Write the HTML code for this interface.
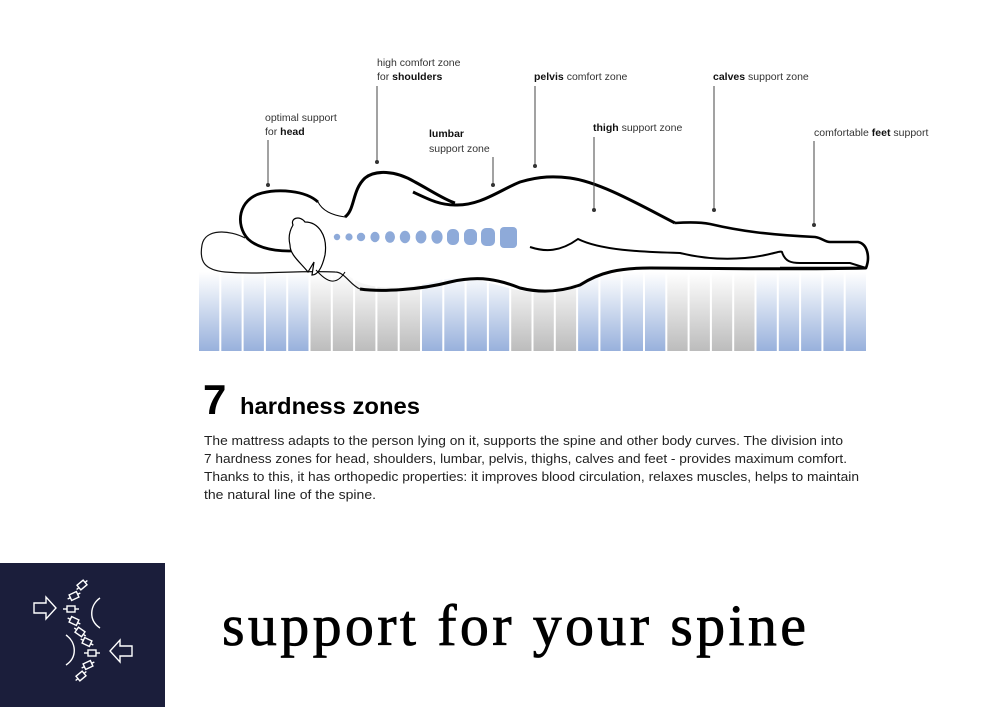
<!DOCTYPE html>
<html><head><meta charset="utf-8"><style>
html,body{margin:0;padding:0;background:#fff}
svg{display:block}
</style></head><body>
<svg width="1000" height="707" viewBox="0 0 1000 707" xmlns="http://www.w3.org/2000/svg">
<defs>
<linearGradient id="gb" x1="0" y1="0" x2="0" y2="1"><stop offset="0" stop-color="#ffffff"/><stop offset="1" stop-color="#98b1dc"/></linearGradient>
<linearGradient id="gg" x1="0" y1="0" x2="0" y2="1"><stop offset="0" stop-color="#ffffff"/><stop offset="1" stop-color="#bcbcbc"/></linearGradient>
</defs>
<rect width="1000" height="707" fill="#fff"/>
<g id="strips"></g>
<script>
(function(){var pat="bbbbbgggggbbbbgggbbbbggggbbbbb";var g=document.getElementById("strips");var x0=199,w=22.3;for(var i=0;i<30;i++){var r=document.createElementNS("http://www.w3.org/2000/svg","rect");r.setAttribute("x",(x0+i*w).toFixed(1));r.setAttribute("y","272");r.setAttribute("width",(w-2).toFixed(1));r.setAttribute("height","79");r.setAttribute("fill",pat[i]=="b"?"url(#gb)":"url(#gg)");g.appendChild(r);}})();
</script>
<path d="M202,245 C205,228 230,232 245,238 L300,215 C330,210 345,175 377,172 C410,170 440,200 455,203 C480,205 500,178 540,177 C570,176 620,205 675,222 C720,222 760,234 815,237 L825,242 L860,242 C870,245 872,268 865,268 L800,270 L640,268 C600,270 570,290 540,292 C500,292 480,272 440,280 C400,292 360,290 345,272 C300,272 215,275 205,262 Z" fill="#fff"/>
<path d="M245,238 C230,230 205,228 202,245 C199,262 205,270 225,272 C260,275 300,270 335,272 C345,272 350,285 360,289" fill="none" stroke="#111" stroke-width="1.2"/>
<path d="M318,202 C305,190 278,189 262,193 C238,199 235,225 248,239 C262,252 288,252 305,250" fill="none" stroke="#000" stroke-width="2.8"/>
<path d="M318,202 C322,210 330,215 345,217" fill="none" stroke="#000" stroke-width="1"/>
<path d="M293,225 C290,218 300,215 305,222 C318,222 328,235 325,255 C322,268 318,275 312,275 L314,262 L308,272 C300,262 290,255 290,245 C288,237 290,230 293,225 Z" fill="#fff" stroke="#000" stroke-width="1.2"/>
<path d="M316,270 C325,280 335,288 345,272" fill="none" stroke="#000" stroke-width="1"/>
<path d="M345,217 C355,210 352,190 365,178 C375,170 395,170 415,182 C430,190 445,200 455,203" fill="none" stroke="#000" stroke-width="3"/>
<path d="M413,192 C430,200 440,205 455,205 C480,206 500,190 520,182 C540,176 555,176 570,178 C600,182 640,205 675,223" fill="none" stroke="#000" stroke-width="3"/>
<path d="M675,223 C690,222 700,222 710,224 C740,231 770,235 815,237 C822,238 825,242 830,242 L858,242 C868,244 870,258 866,268 C840,268 800,268 780,268" fill="none" stroke="#000" stroke-width="2.6"/>
<path d="M530,247 C545,252 560,252 578,239 C600,250 640,252 680,253 C700,258 720,260 745,258 C770,256 780,250 782,252 C785,262 792,263 800,263 L850,263 L866,268" fill="none" stroke="#000" stroke-width="2"/>
<path d="M360,289 C380,292 420,290 450,282 C480,275 500,280 520,288 C540,293 560,292 580,285 C600,272 620,268 650,268 C700,268 780,270 866,268" fill="none" stroke="#000" stroke-width="3"/>
<g fill="#8eaad9">
<circle cx="337" cy="237" r="3.2"/><circle cx="349" cy="237" r="3.6"/><circle cx="361" cy="237" r="4.2"/>
<ellipse cx="375" cy="237" rx="4.6" ry="5.2"/><ellipse cx="390" cy="237" rx="5" ry="5.8"/><ellipse cx="405" cy="237" rx="5.2" ry="6.2"/>
<ellipse cx="421" cy="237" rx="5.4" ry="6.5"/><ellipse cx="437" cy="237" rx="5.6" ry="6.8"/>
<rect x="447" y="229" width="12" height="16" rx="5.5"/><rect x="464" y="229" width="13" height="16" rx="5.5"/><rect x="481" y="228" width="14" height="18" rx="5"/><rect x="500" y="227" width="17" height="21" rx="4"/>
</g>
<g stroke="#444" stroke-width="1" fill="#333">
<line x1="268" y1="140" x2="268" y2="185"/><circle cx="268" cy="185" r="2" stroke="none"/>
<line x1="377" y1="86" x2="377" y2="162"/><circle cx="377" cy="162" r="2" stroke="none"/>
<line x1="493" y1="157" x2="493" y2="185"/><circle cx="493" cy="185" r="2" stroke="none"/>
<line x1="535" y1="86" x2="535" y2="166"/><circle cx="535" cy="166" r="2" stroke="none"/>
<line x1="594" y1="137" x2="594" y2="210"/><circle cx="594" cy="210" r="2" stroke="none"/>
<line x1="714" y1="86" x2="714" y2="210"/><circle cx="714" cy="210" r="2" stroke="none"/>
<line x1="814" y1="141" x2="814" y2="225"/><circle cx="814" cy="225" r="2" stroke="none"/>
</g>
<g font-family="Liberation Sans, sans-serif" font-size="10.5" fill="#333">
<text x="265" y="121">optimal support</text>
<text x="265" y="135">for <tspan font-weight="bold" fill="#111">head</tspan></text>
<text x="377" y="66">high comfort zone</text>
<text x="377" y="80">for <tspan font-weight="bold" fill="#111">shoulders</tspan></text>
<text x="429" y="137" font-weight="bold" fill="#111">lumbar</text>
<text x="429" y="152">support zone</text>
<text x="534" y="80"><tspan font-weight="bold" fill="#111">pelvis</tspan> comfort zone</text>
<text x="593" y="131"><tspan font-weight="bold" fill="#111">thigh</tspan> support zone</text>
<text x="713" y="80"><tspan font-weight="bold" fill="#111">calves</tspan> support zone</text>
<text x="814" y="136">comfortable <tspan font-weight="bold" fill="#111">feet</tspan> support</text>
</g>
<text x="203" y="414" font-family="Liberation Sans, sans-serif" font-weight="bold" font-size="42" fill="#000">7</text>
<text x="240" y="414" font-family="Liberation Sans, sans-serif" font-weight="bold" font-size="23" fill="#000" textLength="180" lengthAdjust="spacingAndGlyphs">hardness zones</text>
<g font-family="Liberation Sans, sans-serif" font-size="12.5" fill="#222">
<text x="204" y="445" textLength="639" lengthAdjust="spacingAndGlyphs">The mattress adapts to the person lying on it, supports the spine and other body curves. The division into</text>
<text x="204" y="463" textLength="643" lengthAdjust="spacingAndGlyphs">7 hardness zones for head, shoulders, lumbar, pelvis, thighs, calves and feet - provides maximum comfort.</text>
<text x="204" y="481" textLength="655" lengthAdjust="spacingAndGlyphs">Thanks to this, it has orthopedic properties: it improves blood circulation, relaxes muscles, helps to maintain</text>
<text x="204" y="499" textLength="172" lengthAdjust="spacingAndGlyphs">the natural line of the spine.</text>
</g>
<rect x="0" y="563" width="165" height="144" fill="#1b1e3b"/>
<g stroke="#fff" stroke-width="1.4" fill="none">
<path d="M34,603 L46,603 L46,597 L56,608 L46,619 L46,613 L34,613 Z"/>
<path d="M132,646 L120,646 L120,640 L110,651 L120,662 L120,656 L132,656 Z"/>
<path d="M100,598 C90,605 88,620 100,628"/>
<path d="M66,635 C76,642 78,657 66,665"/>
<g transform="translate(82,585) rotate(-40)"><rect x="-4" y="-3" width="8" height="6"/><line x1="-7" y1="0" x2="-4" y2="0"/><line x1="4" y1="0" x2="7" y2="0"/></g>
<g transform="translate(74,596) rotate(-25)"><rect x="-4" y="-3" width="8" height="6"/><line x1="-7" y1="0" x2="-4" y2="0"/><line x1="4" y1="0" x2="7" y2="0"/></g>
<g transform="translate(71,609)"><rect x="-4" y="-3" width="8" height="6"/><line x1="-8" y1="0" x2="-4" y2="0"/><line x1="4" y1="0" x2="8" y2="0"/></g>
<g transform="translate(74,621) rotate(25)"><rect x="-4" y="-3" width="8" height="6"/><line x1="-7" y1="0" x2="-4" y2="0"/><line x1="4" y1="0" x2="7" y2="0"/></g>
<g transform="translate(80,632) rotate(35)"><rect x="-4" y="-3" width="8" height="6"/><line x1="-7" y1="0" x2="-4" y2="0"/><line x1="4" y1="0" x2="7" y2="0"/></g>
<g transform="translate(87,642) rotate(25)"><rect x="-4" y="-3" width="8" height="6"/><line x1="-7" y1="0" x2="-4" y2="0"/><line x1="4" y1="0" x2="7" y2="0"/></g>
<g transform="translate(92,653)"><rect x="-4" y="-3" width="8" height="6"/><line x1="-8" y1="0" x2="-4" y2="0"/><line x1="4" y1="0" x2="8" y2="0"/></g>
<g transform="translate(88,665) rotate(-25)"><rect x="-4" y="-3" width="8" height="6"/><line x1="-7" y1="0" x2="-4" y2="0"/><line x1="4" y1="0" x2="7" y2="0"/></g>
<g transform="translate(81,676) rotate(-40)"><rect x="-4" y="-3" width="8" height="6"/><line x1="-7" y1="0" x2="-4" y2="0"/><line x1="4" y1="0" x2="7" y2="0"/></g>
</g>
<text x="222" y="645" font-family="Liberation Serif, serif" font-size="58" fill="#000" stroke="#000" stroke-width="0.8" textLength="584" lengthAdjust="spacing">support for your spine</text>
</svg>
</body></html>
